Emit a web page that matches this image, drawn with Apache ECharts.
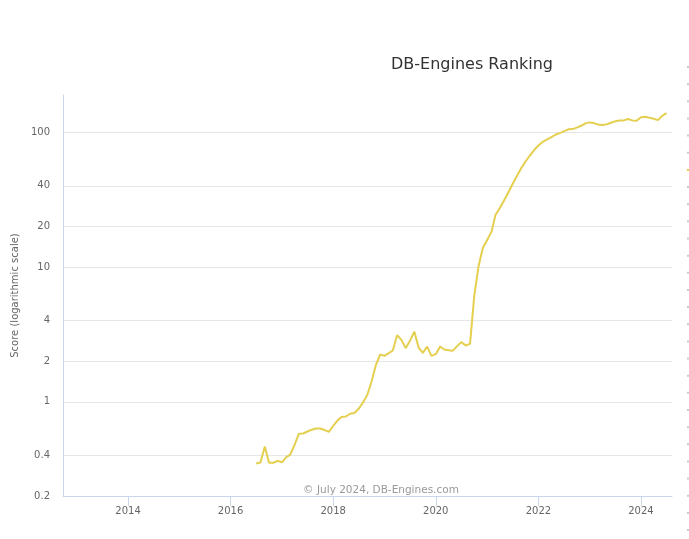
<!DOCTYPE html>
<html>
<head>
<meta charset="utf-8">
<script src="https://cdn.jsdelivr.net/npm/echarts@6/dist/echarts.min.js"></script>
<style>html,body{margin:0;padding:0;background:#fff;}#chart{width:689px;height:539px;}</style>
</head>
<body>
<div id="chart"></div>
<script>
// Monthly scores starting July 2016, ending July 2024
var startYear = 2016, startMonth = 7;
var scores = [
  0.349, 0.355, 0.466, 0.353, 0.353, 0.365, 0.355, 0.389, 0.405, 0.480,
  0.579, 0.582, 0.602, 0.620, 0.634, 0.634, 0.617, 0.599, 0.664, 0.727,
  0.770, 0.778, 0.815, 0.825, 0.887, 0.988, 1.127, 1.414, 1.88, 2.242,
  2.193, 2.296, 2.401, 3.122, 2.882, 2.501, 2.833, 3.32, 2.526, 2.308,
  2.570, 2.193, 2.257, 2.570, 2.442, 2.417, 2.388, 2.588, 2.771, 2.615,
  2.692, 6.107, 10.19, 13.86, 15.88, 18.30, 24.33, 27.43, 31.17, 35.73,
  41.30, 47.35, 54.28, 60.66, 67.20, 73.8, 79.7, 85.0, 88.3, 91.7,
  95.8, 98.6, 101.5, 105.1, 105.6, 108.3, 111.7, 116.4, 118.4, 117.0,
  114.0, 113.1, 114.4, 117.6, 120.5, 122.1, 122.5, 125.3, 122.5, 121.7,
  129.2, 130.3, 128.1, 125.9, 123.1, 132.6, 138.8
];
var yTicks = [0.2, 0.4, 1, 2, 4, 10, 20, 40, 100];
var xTickYears = [2014, 2016, 2018, 2020, 2022, 2024];

var xTicks = xTickYears.map(function (y) { return Date.UTC(y, 0, 1); });
var seriesData = scores.map(function (v, i) {
  var m = startMonth - 1 + i;
  return [Date.UTC(startYear + Math.floor(m / 12), m % 12, 1), v];
});

var legendDots = [];
for (var k = 0; k < 28; k++) {
  legendDots.push({
    type: 'rect', silent: true,
    shape: {x: 687, y: 66 + k * 17.15, width: 2, height: 2},
    style: {fill: k === 6 ? '#e4cf4f' : '#cccccc'}
  });
}

var chart = echarts.init(document.getElementById('chart'), null, {renderer: 'canvas'});
chart.setOption({
  animation: false,
  backgroundColor: '#ffffff',
  title: {
    text: 'DB-Engines Ranking',
    left: 467, top: 52, textAlign: 'center',
    textStyle: {fontFamily: 'DejaVu Sans', fontSize: 16, fontWeight: 'normal', color: '#333333'}
  },
  grid: {left: 63, right: 17, top: 95, bottom: 43, containLabel: false},
  xAxis: {
    type: 'value',
    min: Date.UTC(2012, 8, 25), max: Date.UTC(2024, 7, 9),
    axisLine: {show: true, lineStyle: {color: '#ccd6eb', width: 1}},
    axisTick: {show: true, length: 10, lineStyle: {color: '#ccd6eb'}, customValues: xTicks},
    axisLabel: {
      customValues: xTicks, margin: 10,
      color: '#666666', fontFamily: 'DejaVu Sans', fontSize: 10,
      formatter: function (v) { return '' + new Date(v).getUTCFullYear(); }
    },
    splitLine: {show: false}
  },
  yAxis: {
    type: 'log', logBase: 10,
    min: 0.2, max: 189,
    name: 'Score (logarithmic scale)',
    nameLocation: 'middle', nameGap: 35, nameRotate: 90,
    nameTextStyle: {color: '#666666', fontFamily: 'DejaVu Sans', fontSize: 10},
    axisLine: {show: true, lineStyle: {color: '#ccd6eb', width: 1}},
    axisTick: {show: false, customValues: yTicks},
    axisLabel: {
      customValues: yTicks, margin: 13,
      color: '#666666', fontFamily: 'DejaVu Sans', fontSize: 10,
      formatter: function (v) { return '' + (Math.round(v * 10) / 10); }
    },
    splitLine: {show: true, lineStyle: {color: '#e6e6e6', width: 1}}
  },
  graphic: [
    {
      type: 'text', silent: true, x: 381, y: 490,
      style: {text: '\u00a9 July 2024, DB-Engines.com', fill: '#999999', font: '10.5px "DejaVu Sans"', align: 'center', verticalAlign: 'middle'}
    }
  ].concat(legendDots),
  series: [{
    type: 'line',
    data: seriesData,
    showSymbol: false,
    symbol: 'none',
    lineStyle: {color: '#e4cf4f', width: 2},
    itemStyle: {color: '#e4cf4f'}
  }]
});
</script>
</body>
</html>
